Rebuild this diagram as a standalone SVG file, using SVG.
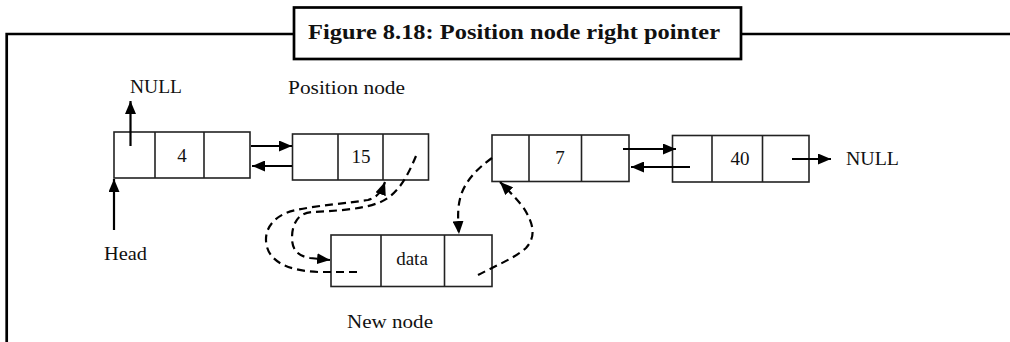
<svg xmlns="http://www.w3.org/2000/svg" width="1010" height="342" viewBox="0 0 1010 342">
<style>
.frame{fill:none;stroke:#000;stroke-width:2.7}
.cell{fill:#fff;stroke:#222;stroke-width:1.6}
.div{stroke:#222;stroke-width:1.6}
.lbl{font-family:"Liberation Serif",serif;font-size:19px;fill:#111}
.num{font-family:"Liberation Serif",serif;font-size:19px;fill:#111;text-anchor:middle}
.title{font-family:"Liberation Serif",serif;font-size:21px;font-weight:bold;fill:#111}
.solid{fill:none;stroke:#000;stroke-width:2.2;marker-end:url(#ah)}
.dash{fill:none;stroke:#000;stroke-width:2.2;stroke-dasharray:8 5;marker-end:url(#ah)}
</style>
<defs>
<marker id="ah" viewBox="0 0 13 11" refX="13" refY="5.5" markerWidth="13" markerHeight="11" markerUnits="userSpaceOnUse" orient="auto">
<path d="M0,0 L13,5.5 L0,11 Z" fill="#000" stroke="none"/>
</marker>
</defs>
<rect width="1010" height="342" fill="#fff"/>
<g id="frame">
<path class="frame" d="M6.7,342 V34 H294 M741,34 H1010"/>
<rect class="frame" x="294" y="7.5" width="447" height="51.5" fill="#fff"/>
<text class="title" x="308" y="39" textLength="412" lengthAdjust="spacingAndGlyphs">Figure 8.18: Position node right pointer</text>
</g>
<g id="node1">
<rect class="cell" x="114" y="132" width="136" height="46"/>
<line class="div" x1="155" y1="132" x2="155" y2="178"/>
<line class="div" x1="204" y1="132" x2="204" y2="178"/>
<text class="num" x="182" y="162">4</text>
</g>
<g id="node2">
<rect class="cell" x="292.5" y="134" width="136" height="46"/>
<line class="div" x1="338" y1="134" x2="338" y2="180"/>
<line class="div" x1="383" y1="134" x2="383" y2="180"/>
<text class="num" x="361" y="163">15</text>
</g>
<g id="node3">
<rect class="cell" x="492" y="135" width="137" height="46.5"/>
<line class="div" x1="529" y1="135" x2="529" y2="181.5"/>
<line class="div" x1="581.5" y1="135" x2="581.5" y2="181.5"/>
<text class="num" x="560" y="164">7</text>
</g>
<g id="node4">
<rect class="cell" x="672.5" y="135.5" width="136.5" height="46.5"/>
<line class="div" x1="712" y1="135.5" x2="712" y2="182"/>
<line class="div" x1="762.5" y1="135.5" x2="762.5" y2="182"/>
<text class="num" x="740" y="165">40</text>
</g>
<g id="newnode">
<rect class="cell" x="331" y="235" width="161" height="51.5"/>
<line class="div" x1="381" y1="235" x2="381" y2="286.5"/>
<line class="div" x1="444.5" y1="235" x2="444.5" y2="286.5"/>
<text class="num" x="412" y="265">data</text>
</g>
<g id="labels">
<text class="lbl" x="130" y="93" textLength="52" lengthAdjust="spacingAndGlyphs">NULL</text>
<text class="lbl" x="288" y="94" textLength="117" lengthAdjust="spacingAndGlyphs">Position node</text>
<text class="lbl" x="104" y="260" textLength="43" lengthAdjust="spacingAndGlyphs">Head</text>
<text class="lbl" x="347" y="328" textLength="86" lengthAdjust="spacingAndGlyphs">New node</text>
<text class="lbl" x="846" y="165" textLength="53" lengthAdjust="spacingAndGlyphs">NULL</text>
</g>
<g id="connectors">
<path class="solid" d="M130.5,146 V101"/>
<path class="solid" d="M114,230 V179"/>
<path class="solid" d="M251,146 H292"/>
<path class="solid" d="M292,166 H252"/>
<path class="solid" d="M623,149 H676"/>
<path class="solid" d="M690,167 H631"/>
<path class="solid" d="M792,159 H831"/>
<path class="dash" d="M357,272 L318,272 C295,271 272,265 267,247 C262,228 276,214 296,210 C320,205 350,203 368,200 C376,198 381,193 385,182"/>
<path class="dash" d="M416,156 C408,175 398,196 378,203 C360,210 330,211 312,212 C297,213 292,225 292,238 C292,250 298,256 310,258 L330,260"/>
<path class="dash" d="M492,158 C478,168 466,180 461,195 C457,208 458,220 459,234"/>
<path class="dash" d="M478,275 C495,266 515,258 526,248 C537,236 533,222 523,207 C515,197 508,190 500,182"/>
</g>
</svg>
